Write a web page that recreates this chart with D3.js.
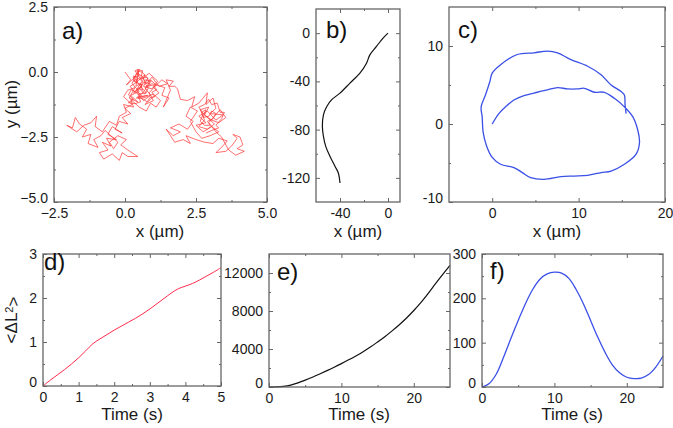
<!DOCTYPE html>
<html><head><meta charset="utf-8">
<script src="https://cdn.jsdelivr.net/npm/d3@7"></script>
<style>
body{margin:0;background:#fff;}
svg{display:block;font-family:"Liberation Sans",Arial,sans-serif;}
</style></head>
<body><svg id="chart" width="673" height="428"></svg>
<script>
// ---- Data ----
// a) random-walk trajectory (x, y in µm)
const trajA = [
[0,0],[0.2,-0.3],[0.05,-0.5],[0.35,-0.2],[0.5,0.1],[0.4,-0.4],[0.7,-0.1],[0.55,-0.6],[0.3,-0.8],[0.6,-0.5],
[0.3,-0.35],[0.45,-0.25],[0.38,-0.55],[0.55,-0.45],[0.62,-0.7],[0.48,-0.62],[0.7,-0.85],[0.82,-0.62],[0.68,-0.4],[0.86,-0.45],
[0.78,-0.2],[0.55,-0.25],[0.62,0.05],[0.42,0.1],[0.5,-0.15],[0.28,-0.2],[0.38,-0.42],[0.18,-0.55],[0.3,-0.72],[0.52,-0.88],
[0.4,-1.0],[0.62,-1.02],[0.78,-1.15],[0.88,-0.98],[1.05,-0.95],[0.95,-0.78],[1.12,-0.68],[0.98,-0.5],[0.8,-0.55],[0.92,-0.35],
[0.72,-0.3],[0.58,-0.55],[0.4,-0.78],[0.22,-0.68],[0.12,-0.88],[0.3,-1.05],[0.12,-1.18],[0.35,-1.22],[0.55,-1.15],[0.48,-0.95],
[0.8,-0.9],[0.45,-1.0],[0.7,-0.7],[0.9,-0.3],[1.1,-0.5],[0.85,-0.8],[1.0,-1.1],[0.7,-1.25],[0.95,-1.0],[1.2,-0.8],
[1.0,-0.6],[1.3,-0.3],[1.5,-0.45],[1.2,-0.55],[0.95,-0.2],[0.75,-0.45],[0.6,-0.15],[0.4,-0.05],[0.25,-0.45],[0.5,-0.75],
[0.2,-0.9],[0.45,-1.15],[0.15,-1.0],[0.35,-0.6],[0.1,-0.7],[-0.05,-0.95],[0.25,-1.25],[0.0,-1.4],
[0.2,-1.6],[-0.1,-1.75],[0.1,-2.0],[-0.2,-1.9],[-0.35,-2.2],[-0.1,-2.35],[-0.45,-2.1],[-0.6,-2.4],[-0.3,-2.6],[-0.65,-2.55],
[-0.5,-2.85],[-0.8,-2.7],[-0.6,-3.0],[-0.9,-3.1],[-0.75,-3.35],[-0.45,-3.15],[-0.2,-3.4],[-0.1,-3.1],[0.1,-3.25],[0.45,-3.25],
[0.1,-3.0],[-0.15,-2.8],[0.05,-2.6],[-0.25,-2.45],[-0.55,-2.7],[-0.4,-2.95],[-0.25,-2.7],[-0.45,-2.5],[-0.7,-2.25],[-0.85,-2.45],
[-1.1,-2.6],[-0.95,-2.9],[-1.3,-2.75],[-1.2,-2.4],
[-1.5,-2.5],[-1.35,-2.2],[-1.6,-2.0],[-1.75,-1.75],[-1.85,-2.15],[-2.05,-2.05],[-1.7,-2.3],[-1.45,-2.05],[-1.2,-1.95],[-1.0,-1.7],
[-1.05,-2.1],[-0.8,-2.3],[-0.55,-1.9],[-0.3,-2.05],
[-0.2,-1.7],[0.05,-1.55],[-0.05,-1.25],[0.3,-1.35],[0.2,-1.05],[0.5,-1.35],[0.75,-1.5],[0.9,-1.2],[1.1,-1.35],[1.25,-1.1],
[1.0,-0.85],[0.65,-1.0],[0.4,-0.7],[0.6,-0.35],[0.35,0.05],[0.6,0.0],[0.8,-0.25],[0.65,-0.55],[0.95,-0.65],[1.15,-0.35],
[0.85,-0.05],[0.55,-0.3],[0.3,-0.15],[0.5,-0.5],[0.75,-0.8],[0.45,-0.85],[0.65,-1.1],[0.9,-0.9],[0.7,-0.6],[0.95,-0.45],
[1.4,-0.6],[1.3,-0.9],[1.55,-1.0],[1.35,-1.35],[1.6,-0.7],[1.45,-0.3],[1.7,-0.35],[1.55,-0.55],
[1.75,-0.55],[1.85,-0.65],[1.95,-1.05],[2.2,-1.1],[2.45,-0.95],[2.35,-1.35],[2.6,-1.2],[2.9,-0.8],[2.85,-1.25],[3.1,-1.0],
[3.2,-1.4],[3.0,-1.6],[3.45,-1.65],[3.2,-1.85],[2.9,-1.5],[2.6,-1.7],[2.85,-1.95],[2.5,-2.05],[2.75,-2.3],[3.05,-2.1],
[3.3,-2.3],[3.0,-2.45],[2.7,-2.55],[2.5,-2.3],[2.3,-1.9],[2.55,-1.5],[2.3,-1.35],[2.15,-1.7],[2.4,-1.9],[2.2,-2.2],
[1.9,-2.0],[1.6,-2.15],[1.95,-2.3],[1.7,-2.45],[1.45,-2.2],[1.75,-2.7],[2.05,-2.6],[2.3,-2.75],[2.15,-2.45],[2.5,-2.6],
[2.8,-2.7],[3.1,-2.75],[3.3,-2.55],[3.6,-2.65],[3.4,-2.9],[3.2,-3.1],[3.55,-3.05],[3.75,-2.85],[3.95,-2.55],[3.8,-2.4],
[4.05,-2.5],[4.15,-2.8],[3.95,-2.95],[4.2,-3.05],[3.9,-3.2],[3.65,-3.0],
[3.4,-2.5],[3.2,-2.3],[2.95,-1.95],[3.15,-1.7],[3.35,-1.45],[3.55,-1.75],[3.3,-1.95],[3.05,-1.85],[2.8,-1.65],[2.95,-1.35],
[2.65,-1.45],[2.8,-1.85],[2.6,-2.1],[2.9,-2.2],[3.15,-2.0],
[2.7,-1.55],[2.85,-1.45],[2.75,-1.75],[2.95,-1.7],[3.05,-1.5],[3.2,-1.6],[3.1,-1.8],[2.9,-1.9],[3.0,-2.05],[2.8,-2.05],
[2.65,-1.9],[2.75,-1.6],[2.6,-1.35],[2.8,-1.25],[2.95,-1.05],[3.05,-1.25],[3.25,-1.2],[3.35,-1.55],[3.5,-1.55],[3.4,-1.8],
[3.2,-2.05],[3.3,-2.15],[3.05,-2.25],[2.85,-2.35]
];
// b) trajectory (x, y in µm)
const trajB = [
[0,0],[-4.1,-4.1],[-9.6,-11],[-15.1,-18],[-17.9,-24.9],[-23.4,-33.1],[-31.7,-41.4],[-40,-49.7],
[-46.9,-55.2],[-51,-60.8],[-53.8,-67.7],[-54.7,-77.3],[-53.8,-85.6],[-51.9,-93.9],[-48.3,-102.2],
[-44.1,-110.5],[-41.4,-116],[-40,-124.2]
];
// c) trajectory (x, y in µm)
const trajC = [
[0,0],[0.77,1.34],[1.55,2.2],[2.51,3.07],[3.68,3.63],[5.23,4.07],[6.4,4.37],[7.56,4.67],[8.72,4.5],[9.88,4.5],
[10.65,4.58],[11.81,4.07],[12.98,4.07],[14.14,3.29],[15.3,2.2],[16.28,0.91],[16.86,-0.83],[17.05,-2.34],[16.66,-3.86],
[15.3,-5.16],[13.76,-6.03],[12.6,-6.23],[11.05,-6.58],[9.49,-6.67],[7.94,-6.75],[6.0,-7.1],[4.45,-6.88],[3.49,-6.23],
[2.51,-5.58],[0.97,-5.16],[0,-4.29],[-0.66,-2.78],[-1.05,-1.04],[-1.16,0.91],[-1.28,2.2],[-0.78,3.71],[-0.27,5.45],
[0,6.53],[0.97,7.61],[2.91,8.91],[4.84,9.13],[6.4,9.35],[7.56,9.13],[9.1,8.26],[11.05,7.4],[12.6,6.31],[13.76,5.01],
[14.92,4.16],[15.3,3.71],[15.38,2.42],[15.5,1.34]
];
// d) <ΔL²> vs time
const timeD = [0,0.2,0.4,0.6,0.8,1.0,1.2,1.4,1.6,1.8,2.0,2.2,2.4,2.6,2.8,3.0,3.2,3.4,3.6,3.8,4.0,4.2,4.4,4.6,4.8,5.0];
const msdD  = [0,0.13,0.25,0.37,0.5,0.64,0.8,0.96,1.07,1.17,1.27,1.36,1.45,1.54,1.64,1.75,1.87,1.99,2.11,2.21,2.27,2.33,2.41,2.5,2.59,2.69];
// e) vs time
const timeE = [0,1,2,3,4,5,6,7,8,9,10,11,12,13,14,15,16,17,18,19,20,21,22,23,24,25];
const valE  = [0,15,70,200,430,720,1030,1370,1720,2080,2460,2860,3270,3710,4200,4740,5300,5910,6560,7260,8050,8900,9860,10870,11850,12800];
// f) vs time
const timeF = [0,1,2,3,4,5,6,7,8,9,10,11,12,13,14,15,16,17,18,19,20,21,22,23,24,25];
const valF  = [0,8,30,68,110,150,188,220,243,255,259,257,245,220,188,150,112,78,50,32,22,19,20,28,45,70];

// ---- Drawing ----
const svg = d3.select("#chart");
const frameCol = "#666", textCol = "#1a1a1a";

function panel(o){
  const x = d3.scaleLinear().domain(o.xd).range([o.l, o.r]);
  const y = d3.scaleLinear().domain(o.yd).range([o.b, o.t]);
  const g = svg.append("g");
  const mk = (axis, tr, vals, big, labels, pad) => {
    const ax = axis.tickValues(vals).tickSize(big ? -4 : -2).tickPadding(pad||6);
    if(!labels) ax.tickFormat("");
    else ax.tickFormat(o.fmt || (d=>d));
    const a = g.append("g").attr("transform", tr).call(ax);
    a.select(".domain").remove();
    a.selectAll("line").attr("stroke", frameCol).attr("stroke-width", 1);
    a.selectAll("text").attr("fill", textCol).style("font-size","14px").style("font-family","Liberation Sans, Arial, sans-serif");
    return a;
  };
  mk(d3.axisBottom(x), `translate(0,${o.b})`, o.xt, true, true, 6);
  mk(d3.axisBottom(x), `translate(0,${o.b})`, o.xm, false, false);
  mk(d3.axisTop(x), `translate(0,${o.t})`, o.xt, true, false);
  mk(d3.axisTop(x), `translate(0,${o.t})`, o.xm, false, false);
  const ya = mk(d3.axisLeft(y), `translate(${o.l},0)`, o.yt, true, true, 6);
  // lowest y label sits a little higher, as in the reference
  ya.selectAll(".tick").filter(d => d === o.yd[0]).select("text").attr("y", -4);
  mk(d3.axisLeft(y), `translate(${o.l},0)`, o.ym, false, false);
  mk(d3.axisRight(y), `translate(${o.r},0)`, o.yt, true, false);
  mk(d3.axisRight(y), `translate(${o.r},0)`, o.ym, false, false);
  const line = d3.line().x(d=>x(d[0])).y(d=>y(d[1]));
  if(o.smooth) line.curve(d3.curveCatmullRom.alpha(0.5));
  g.append("path").datum(o.data).attr("d", line).attr("fill","none")
    .attr("stroke", o.color).attr("stroke-width", o.sw).attr("stroke-linejoin","round");
  g.append("rect").attr("x",o.l).attr("y",o.t).attr("width",o.r-o.l).attr("height",o.b-o.t)
    .attr("fill","none").attr("stroke",frameCol).attr("stroke-width",1.3);
  g.append("text").attr("x",o.lx).attr("y",o.ly).text(o.label)
    .attr("fill","#111").style("font-size","24px");
  return {x,y};
}

const fmt1 = d3.format(".1f");
panel({xd:[-2.5,5], yd:[-5,2.5], l:54, r:267, t:7, b:202,
  xt:[-2.5,0,2.5,5], xm:[-1.25,1.25,3.75], yt:[-5,-2.5,0,2.5], ym:[-3.75,-1.25,1.25],
  fmt: fmt1, data: trajA, color:"#ff3030", sw:0.7, label:"a)", lx:62, ly:39});
panel({xd:[-60,10], yd:[-140,20], l:316, r:400, t:9, b:202,
  xt:[-40,0], xm:[-20], yt:[-120,-80,-40,0], ym:[-100,-60,-20],
  data: trajB, color:"#111", sw:1.2, smooth:true, label:"b)", lx:326, ly:38});
panel({xd:[-5,20], yd:[-10,15], l:449, r:665, t:7, b:202,
  xt:[0,10,20], xm:[5,15], yt:[-10,0,10], ym:[-5,5],
  data: trajC, color:"#3a50e6", sw:1.3, smooth:true, label:"c)", lx:458, ly:38});
panel({xd:[0,5], yd:[0,3], l:43, r:221, t:254, b:386,
  xt:[0,1,2,3,4,5], xm:[0.5,1.5,2.5,3.5,4.5], yt:[0,1,2,3], ym:[0.5,1.5,2.5],
  data: d3.zip(timeD, msdD), color:"#ff2a4a", sw:1, smooth:true, label:"d)", lx:44, ly:270});
panel({xd:[0,25], yd:[0,14000], l:269, r:450, t:254, b:387,
  xt:[0,10,20], xm:[5,15], yt:[0,4000,8000,12000], ym:[2000,6000,10000],
  data: d3.zip(timeE, valE), color:"#111", sw:1.2, smooth:true, label:"e)", lx:277, ly:280});
panel({xd:[0,25], yd:[0,300], l:482, r:663, t:254, b:387,
  xt:[0,10,20], xm:[5,15], yt:[0,100,200,300], ym:[50,150,250],
  data: d3.zip(timeF, valF), color:"#3a50e6", sw:1.3, smooth:true, label:"f)", lx:490, ly:279});

// axis titles
const title = (x,y,rot) => {
  const tx = svg.append("text").attr("text-anchor","middle").attr("fill",textCol).style("font-size","17px");
  if(rot) tx.attr("transform",`translate(${x},${y}) rotate(-90)`); else tx.attr("x",x).attr("y",y);
  return tx;
};
title(160,237).text("x (µm)");
title(358,237).text("x (µm)");
title(557,237).text("x (µm)");
title(132,420).text("Time (s)");
title(359,420).text("Time (s)");
title(572,420).text("Time (s)");
title(17,104,true).text("y (µm)");
const dl = title(17,320,true);
dl.append("tspan").text("<ΔL");
dl.append("tspan").attr("dy","-0.4em").style("font-size","11px").text("2");
dl.append("tspan").attr("dy","0.4em").text(">");
</script></body></html>
